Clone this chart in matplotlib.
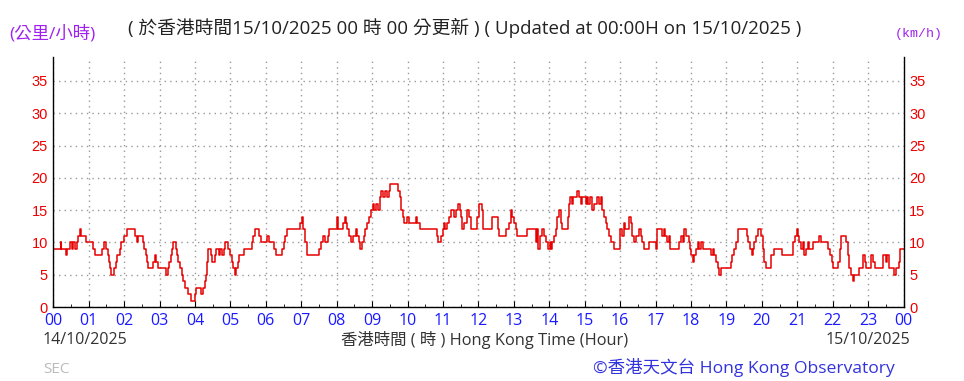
import matplotlib
matplotlib.use("Agg")
import matplotlib.pyplot as plt
from matplotlib.ticker import MultipleLocator

# hours since 00:00 at which the 10-min mean wind speed changes, and the new value (km/h)
change_hours = [
    0.00, 0.21, 0.23, 0.36, 0.40, 0.47, 0.52, 0.56, 0.60, 0.66, 0.70, 0.75, 0.79, 0.91,
    1.13, 1.17, 1.38, 1.43, 1.50, 1.54, 1.57, 1.60, 1.62, 1.71, 1.77, 1.80, 1.88, 1.92, 1.99,
    2.07, 2.30, 2.35, 2.38, 2.52, 2.56, 2.61, 2.64, 2.68, 2.82, 2.86, 2.91, 2.96,
    3.19, 3.23, 3.27, 3.31, 3.34, 3.38, 3.45, 3.48, 3.53, 3.57, 3.62, 3.66, 3.71, 3.81, 3.88,
    4.01, 4.04, 4.18, 4.23, 4.27, 4.30, 4.34, 4.38, 4.45, 4.49, 4.55, 4.60, 4.67, 4.70, 4.76,
    4.83, 4.86, 4.94, 5.00, 5.03, 5.07, 5.12, 5.15, 5.20, 5.24, 5.37, 5.60, 5.65, 5.70,
    5.81, 5.86, 6.03, 6.08, 6.24, 6.29, 6.45, 6.50, 6.55, 6.59, 6.97, 7.02, 7.06, 7.11, 7.16,
    7.51, 7.56, 7.61, 7.67, 7.74, 7.79, 8.00, 8.04, 8.19, 8.23, 8.27, 8.30, 8.35, 8.40, 8.47,
    8.53, 8.57, 8.62, 8.66, 8.71, 8.76, 8.80, 8.85, 8.90, 8.96, 9.02, 9.06, 9.11, 9.16, 9.21,
    9.25, 9.32, 9.37, 9.43, 9.47, 9.51, 9.74, 9.79, 9.82, 9.87, 9.91, 9.98, 10.04, 10.23,
    10.28, 10.36, 10.83, 10.86, 10.95, 10.99, 11.03, 11.07, 11.11, 11.18, 11.23, 11.32, 11.37,
    11.42, 11.47, 11.50, 11.54, 11.60, 11.69, 11.74, 11.78, 11.97, 12.02, 12.09, 12.13, 12.39,
    12.54, 12.58, 12.77, 12.86, 12.91, 12.96, 13.01, 13.05, 13.10, 13.36, 13.62, 13.64, 13.69,
    13.73, 13.79, 13.85, 13.92, 13.97, 14.01, 14.04, 14.09, 14.13, 14.18, 14.23, 14.27, 14.32,
    14.37, 14.54, 14.56, 14.58, 14.63, 14.67, 14.79, 14.84, 14.89, 14.93, 15.03, 15.07, 15.10,
    15.15, 15.20, 15.26, 15.36, 15.40, 15.45, 15.50, 15.54, 15.59, 15.64, 15.68, 15.73, 15.83,
    16.01, 16.06, 16.11, 16.15, 16.25, 16.30, 16.34, 16.39, 16.44, 16.53, 16.58, 16.62, 16.67,
    16.81, 17.00, 17.05, 17.19, 17.24, 17.28, 17.33, 17.38, 17.42, 17.67, 17.72, 17.77, 17.81,
    17.86, 17.93, 17.97, 18.01, 18.05, 18.09, 18.14, 18.19, 18.23, 18.28, 18.33, 18.56, 18.61,
    18.66, 18.70, 18.75, 18.78, 18.85, 19.13, 19.17, 19.22, 19.27, 19.32, 19.57, 19.62, 19.66,
    19.71, 19.74, 19.79, 19.83, 19.88, 19.97, 20.02, 20.07, 20.11, 20.27, 20.33, 20.58, 20.89,
    20.94, 20.98, 21.02, 21.05, 21.10, 21.15, 21.20, 21.24, 21.29, 21.34, 21.43, 21.62, 21.67,
    21.88, 21.93, 21.98, 22.01, 22.16, 22.20, 22.24, 22.37, 22.42, 22.46, 22.51, 22.56, 22.61,
    22.73, 22.86, 22.90, 22.93, 23.08, 23.14, 23.20, 23.43, 23.50, 23.53, 23.59, 23.72, 23.78,
    23.87, 23.90, 24.00,
]
speed_kmh = [
    9, 10, 9, 8, 9, 10, 9, 10, 9, 10, 11, 12, 11, 10,
    9, 8, 9, 10, 9, 8, 7, 6, 5, 6, 7, 8, 9, 10, 11,
    12, 11, 10, 11, 10, 9, 8, 7, 6, 7, 8, 7, 6,
    5, 6, 7, 8, 9, 10, 9, 8, 7, 6, 5, 4, 3, 2, 1,
    2, 3, 2, 3, 4, 5, 7, 9, 8, 7, 8, 9, 8, 9, 8,
    9, 10, 9, 8, 7, 6, 5, 6, 7, 8, 9, 10, 11, 12,
    11, 10, 11, 10, 9, 8, 9, 10, 11, 12, 13, 14, 12, 10, 8,
    9, 10, 11, 10, 11, 12, 14, 12, 13, 14, 13, 12, 11, 10, 11,
    12, 11, 10, 9, 10, 11, 12, 13, 14, 15, 16, 15, 16, 15, 17,
    18, 17, 18, 17, 18, 19, 18, 17, 15, 14, 13, 14, 13, 14,
    13, 12, 11, 10, 11, 12, 13, 12, 13, 14, 15, 14, 15,
    16, 15, 14, 12, 13, 15, 14, 12, 14, 16, 15, 12, 14,
    12, 11, 12, 13, 15, 14, 13, 12, 11, 12, 10, 12, 9,
    11, 12, 11, 10, 9, 10, 9, 10, 11, 12, 14, 15, 13,
    12, 14, 16, 17, 16, 17, 18, 17, 16, 17, 16, 17, 16,
    17, 15, 16, 17, 16, 17, 15, 14, 13, 12, 11, 10, 9,
    12, 11, 13, 12, 14, 13, 11, 10, 11, 12, 11, 10, 9,
    10, 9, 12, 11, 12, 11, 10, 11, 9, 10, 11, 10, 12,
    11, 10, 9, 8, 7, 8, 9, 10, 9, 10, 9, 8, 9,
    8, 7, 6, 5, 6, 7, 8, 9, 10, 12, 11, 10, 9,
    8, 9, 10, 11, 12, 11, 9, 7, 6, 8, 9, 8, 10,
    11, 12, 11, 10, 9, 10, 8, 9, 10, 9, 10, 11, 10,
    9, 8, 7, 6, 7, 9, 11, 10, 8, 6, 5, 4, 5,
    6, 8, 7, 6, 8, 7, 6, 8, 7, 8, 6, 5, 6,
    7, 9, 9,
]

hour_labels = ["00", "01", "02", "03", "04", "05", "06", "07", "08", "09", "10", "11",
               "12", "13", "14", "15", "16", "17", "18", "19", "20", "21", "22", "23", "00"]
y_ticks = [0, 5, 10, 15, 20, 25, 30, 35]

plt.rcParams['font.family'] = ['Open Sans', 'Noto Sans CJK TC', 'DejaVu Sans']

fig = plt.figure(figsize=(9.64, 3.81), dpi=100)
ax = fig.add_axes([0.0553, 0.1942, 0.8820, 0.6562])

ax.step(change_hours, speed_kmh, where='post', color='#e60000', linewidth=1.1)

ax.set_xlim(0, 24)
ax.set_ylim(0, 38.7)
ax.set_xticks(range(25))
ax.set_xticklabels(hour_labels, color='#1a1aff', fontsize=11.5)
ax.xaxis.set_minor_locator(MultipleLocator(0.5))
ax.set_yticks(y_ticks)
ax.set_yticklabels([str(v) for v in y_ticks], color='#ee0000', fontsize=10.5,
                   family='Liberation Sans')
ax.tick_params(axis='x', which='major', direction='in', length=4, pad=4)
ax.tick_params(axis='x', which='minor', direction='in', length=2)
ax.tick_params(axis='y', direction='in', length=0, pad=4,
               left=True, right=True, labelleft=True, labelright=True)

ax.grid(True, which='major', color='#999999', linestyle=(0, (1, 3)), linewidth=1.0)
ax.spines['top'].set_visible(False)
for side in ['left', 'right', 'bottom']:
    ax.spines[side].set_color('black')
    ax.spines[side].set_linewidth(1.0)

# header texts
fig.text(0.133, 0.926, "( 於香港時間15/10/2025 00 時 00 分更新 ) ( Updated at 00:00H on 15/10/2025 )",
         fontsize=13.5, color='#222222', va='center', ha='left')
fig.text(0.010, 0.911, "(公里/小時)", fontsize=12.5, color='#a020f0', va='center', ha='left')
fig.text(0.978, 0.911, "(km/h)", fontsize=9.5, color='#a020f0', va='center', ha='right',
         family='Liberation Mono')

# footer texts
fig.text(0.044, 0.108, "14/10/2025", fontsize=11.5, color='#333333', va='center', ha='left')
fig.text(0.503, 0.108, "香港時間 ( 時 ) Hong Kong Time (Hour)", fontsize=11.8, color='#333333',
         va='center', ha='center')
fig.text(0.944, 0.108, "15/10/2025", fontsize=11.5, color='#333333', va='center', ha='right')
fig.text(0.045, 0.030, "SEC", fontsize=11, color='#bbbbbb', va='center', ha='left')
fig.text(0.928, 0.036, "©香港天文台 Hong Kong Observatory", fontsize=12.6, color='#3333dd',
         va='center', ha='right')

fig.savefig("out.png", dpi=100)
